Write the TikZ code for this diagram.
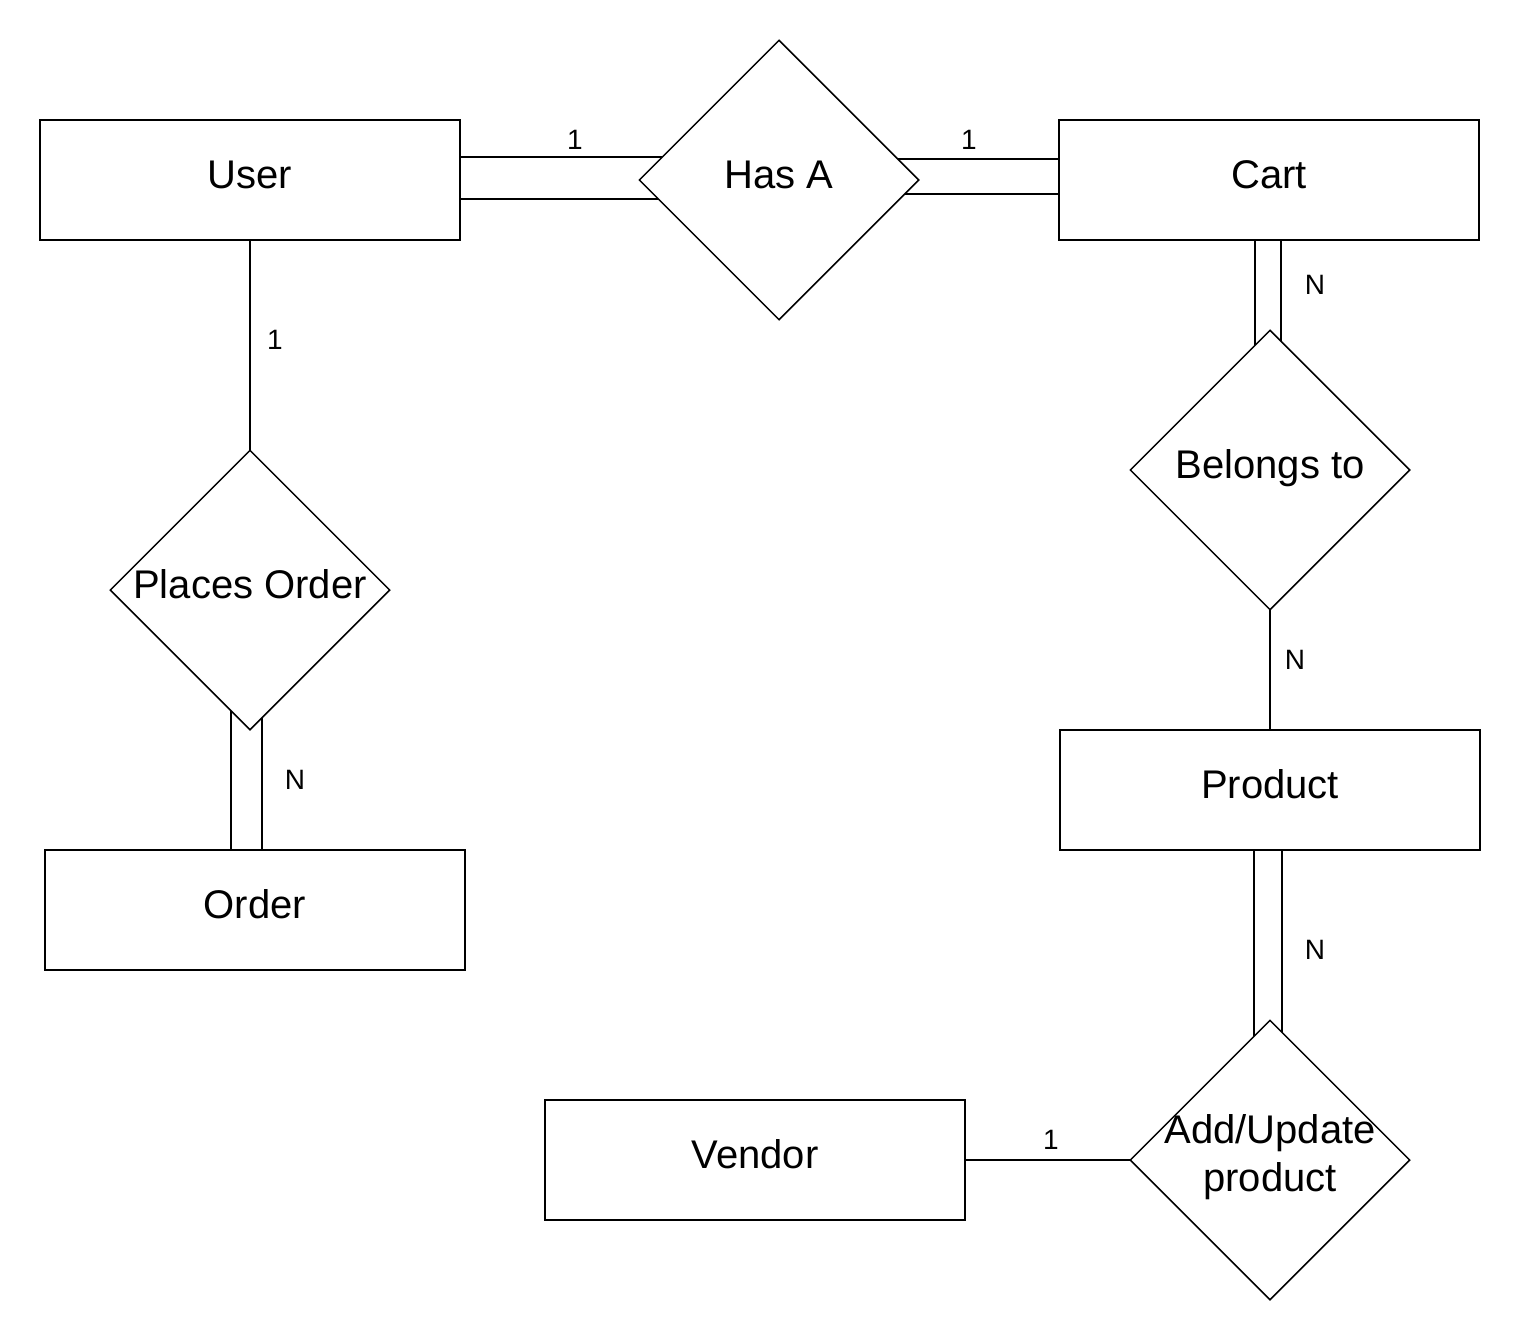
\documentclass[tikz,border=0pt]{standalone}
\usepackage{fontspec}
\setmainfont{Liberation Sans}
\usetikzlibrary{shapes.geometric,calc,backgrounds}

\begin{document}
\begin{tikzpicture}[
    x=0.5pt,
    y=-0.5pt,
    box/.style={
        draw=black,
        line width=0.75pt,
        fill=white,
        minimum width=210pt,
        minimum height=60pt,
        font=\fontsize{20}{24}\selectfont,
        text height=14pt,
        text depth=5.5pt
    },
    rel/.style={
        draw=black,
        diamond,
        line width=0.75pt,
        fill=white,
        minimum width=140pt,
        minimum height=140pt,
        inner sep=0pt
    },
    reltext/.style={
        font=\fontsize{20}{24}\selectfont,
        align=center,
        text height=14pt,
        text depth=5.5pt
    },
    card/.style={
        font=\fontsize{14}{16}\selectfont,
        inner sep=0pt
    },
    link/.style={line width=0.7pt}
]
\useasboundingbox (0,0) rectangle (1520,1340);

% entities
\node[box] (user) at (250,180) {User};
\node[box] (cart) at (1269,180) {Cart};
\node[box] (order) at (255,910) {Order};
\node[box] (product) at (1270,790) {Product};
\node[box] (vendor) at (755,1160) {Vendor};

% relationships
\node[rel, label={[reltext]center:Has A}] (hasa) at (779,180) {};
\node[rel, label={[reltext]center:Places Order}] (places) at (250,590) {};
\node[rel, label={[reltext]center:Belongs to}] (belongs) at (1270,470) {};
\node[rel, label={[reltext, yshift=-11.5pt]center:Add/Update\\product}] (addupd) at (1270,1160) {};

% connectors
\begin{scope}[on background layer]
\draw[link] ($(user.center)+(0,-23)$) -- ($(hasa.center)+(0,-23)$);
\draw[link] ($(user.center)+(0,19)$) -- ($(hasa.center)+(0,19)$);
\draw[link] ($(hasa.center)+(0,-21)$) -- ($(cart.center)+(0,-21)$);
\draw[link] ($(hasa.center)+(0,14)$) -- ($(cart.center)+(0,14)$);
\draw[link] ($(cart.center)+(-14,0)$) -- ($(belongs.center)+(-15,0)$);
\draw[link] ($(cart.center)+(12,0)$) -- ($(belongs.center)+(11,0)$);
\draw[link] (belongs.center) -- (product.center);
\draw[link] ($(product.center)+(-16,0)$) -- ($(addupd.center)+(-16,0)$);
\draw[link] ($(product.center)+(12,0)$) -- ($(addupd.center)+(12,0)$);
\draw[link] (vendor.center) -- (addupd.center);
\draw[link] (user.center) -- (places.center);
\draw[link] ($(places.center)+(-19,0)$) -- ($(order.center)+(-24,0)$);
\draw[link] ($(places.center)+(12,0)$) -- ($(order.center)+(7,0)$);
\end{scope}

% cardinalities
\node[card] (c1) at (575,140) {1};
\node[card] (c2) at (969,140) {1};
\node[card] (c3) at (1315,285) {N};
\node[card] (c4) at (275,340) {1};
\node[card] (c5) at (1295,660) {N};
\node[card] (c6) at (295,780) {N};
\node[card] (c7) at (1315,950) {N};
\node[card] (c8) at (1051,1140) {1};

\end{tikzpicture}
\end{document}
